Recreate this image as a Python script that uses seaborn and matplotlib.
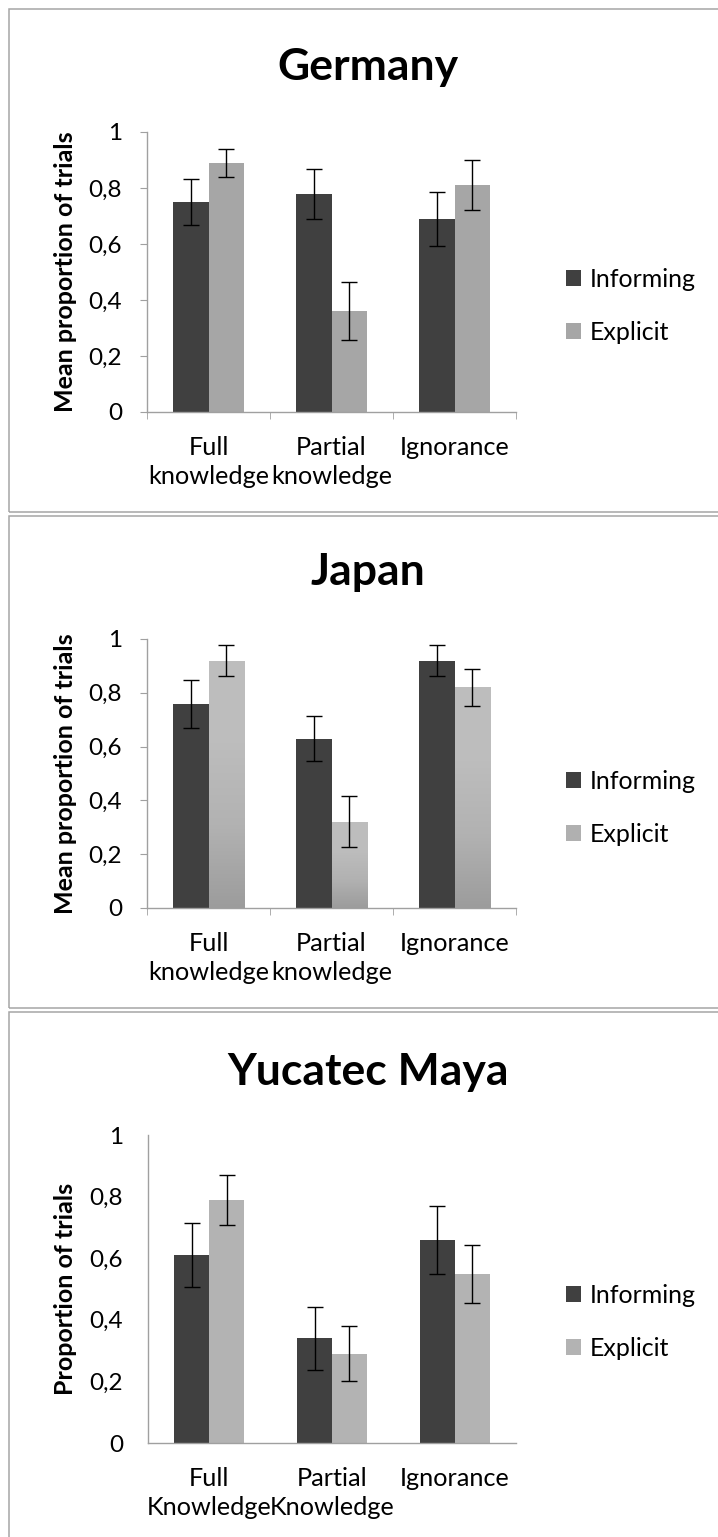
import numpy as np
import pandas as pd
import seaborn as sns
import matplotlib.pyplot as plt
from matplotlib.patches import Rectangle, Patch
from matplotlib.colors import LinearSegmentedColormap

W, H = 718, 1537

# data
conditions = ["Informing", "Explicit"]
categories = ["Full\nknowledge", "Partial\nknowledge", "Ignorance"]
categories_maya = ["Full\nKnowledge", "Partial\nKnowledge", "Ignorance"]
yticks = [0, 0.2, 0.4, 0.6, 0.8, 1]
ytick_labels = ["0", "0,2", "0,4", "0,6", "0,8", "1"]

germany_inf = [0.75, 0.78, 0.69]
germany_inf_err = [0.081, 0.089, 0.097]
germany_exp = [0.89, 0.36, 0.81]
germany_exp_err = [0.05, 0.103, 0.089]

japan_inf = [0.76, 0.63, 0.92]
japan_inf_err = [0.089, 0.085, 0.057]
japan_exp = [0.92, 0.32, 0.82]
japan_exp_err = [0.057, 0.095, 0.068]

maya_inf = [0.61, 0.34, 0.66]
maya_inf_err = [0.105, 0.102, 0.11]
maya_exp = [0.79, 0.29, 0.55]
maya_exp_err = [0.081, 0.089, 0.094]

INF_COLOR = "#404040"
AXIS_GRAY = "#A0A0A0"

sns.set_style("white")
plt.rcParams['font.family'] = ['Lato', 'DejaVu Sans']
plt.rcParams['text.color'] = 'black'
plt.rcParams['axes.labelcolor'] = 'black'
plt.rcParams['xtick.color'] = 'black'
plt.rcParams['ytick.color'] = 'black'


def px2fig(x, y):
    return x / W, 1 - y / H


def draw_panel(fig, p):
    # axes rectangle in pixels: left, right, top (y=1), bottom (y=0)
    l, r, t, b = p["axes_px"]
    x0, y0 = px2fig(l, b)
    ax = fig.add_axes([x0, y0, (r - l) / W, (b - t) / H])

    cats = p["cats"]
    df = pd.DataFrame({
        "cat": cats * 2,
        "cond": [c for c in conditions for _ in cats],
        "val": p["inf"] + p["exp"],
    })
    sns.barplot(data=df, x="cat", y="val", hue="cond", order=cats,
                hue_order=conditions, palette=[INF_COLOR, p["exp_color"]],
                width=0.57, gap=0, errorbar=None, linewidth=0,
                saturation=1, legend=False, ax=ax)

    if p["gradient"]:
        cmap = LinearSegmentedColormap.from_list(
            "grad", ["#9C9C9C", "#B2B2B2", "#BDBDBD", "#BEBEBE"])
        grad = np.linspace(0, 1, 256).reshape(-1, 1)
        for bar in ax.containers[1]:
            bx, bw, bh = bar.get_x(), bar.get_width(), bar.get_height()
            im = ax.imshow(grad, extent=[bx, bx + bw, 0, bh], origin="lower",
                           aspect="auto", cmap=cmap, zorder=bar.get_zorder(),
                           interpolation="bilinear")
            im.set_clip_path(bar)

    for cont, err in zip(ax.containers, [p["inf_err"], p["exp_err"]]):
        xs = [bar.get_x() + bar.get_width() / 2 for bar in cont]
        ys = [bar.get_height() for bar in cont]
        ax.errorbar(xs, ys, yerr=err, fmt="none", ecolor="black",
                    elinewidth=1.0, capsize=5.8, capthick=1.0, zorder=5)

    ax.set_xlim(-0.5, 2.5)
    ax.set_ylim(0, 1)
    sns.despine(ax=ax)
    for s in ["left", "bottom"]:
        ax.spines[s].set_color(AXIS_GRAY)
        ax.spines[s].set_linewidth(1.0)

    ax.set_yticks(yticks, ytick_labels)
    ax.set_xticks([0, 1, 2], cats)
    tick_len = 5 if p["ticks"] else 0
    if p["ticks"]:
        ax.set_xticks([-0.5, 0.5, 1.5, 2.5], minor=True)
    ax.tick_params(axis="x", which="major", bottom=True, length=0, pad=17,
                   labelsize=18.2, labelcolor="black")
    ax.tick_params(axis="x", which="minor", bottom=True, length=tick_len,
                   color=AXIS_GRAY, direction="out")
    ax.tick_params(axis="y", left=True, length=tick_len, color=AXIS_GRAY,
                   direction="out", pad=18 - tick_len, labelsize=17.5,
                   labelcolor="black")
    for lbl in ax.get_xticklabels():
        lbl.set_linespacing(1.32)
        lbl.set_multialignment("center")

    ax.set_xlabel("")
    ax.set_ylabel(p["ylabel"], fontsize=18, fontweight="bold")
    ax.yaxis.set_label_coords((77 - l) / (r - l), 0.5)

    fig.text(368 / W, 1 - p["title_base"] / H, p["title"], ha="center",
             va="baseline", fontsize=32, fontweight="bold")

    handles = [Patch(fc=INF_COLOR, lw=0), Patch(fc=p["legend_exp"], lw=0)]
    ax.legend(handles, conditions, loc="center left",
              bbox_to_anchor=px2fig(566, p["legend_y"]),
              bbox_transform=fig.transFigure, frameon=False, fontsize=18,
              handlelength=0.6, handleheight=0.6, handletextpad=0.35,
              labelspacing=1.2, borderpad=0, borderaxespad=0)

    top, bottom = p["frame_px"]
    fx, fy = px2fig(9, bottom)
    fig.add_artist(Rectangle((fx, fy), (740 - 9) / W, (bottom - top) / H,
                             transform=fig.transFigure, fill=False,
                             ec="#A6A6A6", lw=1.1, clip_on=False))
    return ax


panels = [
    dict(title="Germany", ylabel="Mean proportion of trials", cats=categories,
         inf=germany_inf, inf_err=germany_inf_err,
         exp=germany_exp, exp_err=germany_exp_err,
         exp_color="#A6A6A6", legend_exp="#A6A6A6", gradient=False, ticks=True,
         axes_px=(147, 516, 132, 412), title_base=80, legend_y=306,
         frame_px=(9, 512)),
    dict(title="Japan", ylabel="Mean proportion of trials", cats=categories,
         inf=japan_inf, inf_err=japan_inf_err,
         exp=japan_exp, exp_err=japan_exp_err,
         exp_color="#B5B5B5", legend_exp="#B0B0B0", gradient=True, ticks=True,
         axes_px=(147, 516, 639, 908), title_base=585, legend_y=808,
         frame_px=(516, 1008)),
    dict(title="Yucatec Maya", ylabel="Proportion of trials",
         cats=categories_maya,
         inf=maya_inf, inf_err=maya_inf_err,
         exp=maya_exp, exp_err=maya_exp_err,
         exp_color="#B3B3B3", legend_exp="#B3B3B3", gradient=False, ticks=False,
         axes_px=(148, 516, 1135, 1443), title_base=1085, legend_y=1322,
         frame_px=(1012, 1550)),
]

fig = plt.figure(figsize=(W / 100, H / 100), dpi=100)
for p in panels:
    draw_panel(fig, p)

fig.savefig("out.png", dpi=100)
